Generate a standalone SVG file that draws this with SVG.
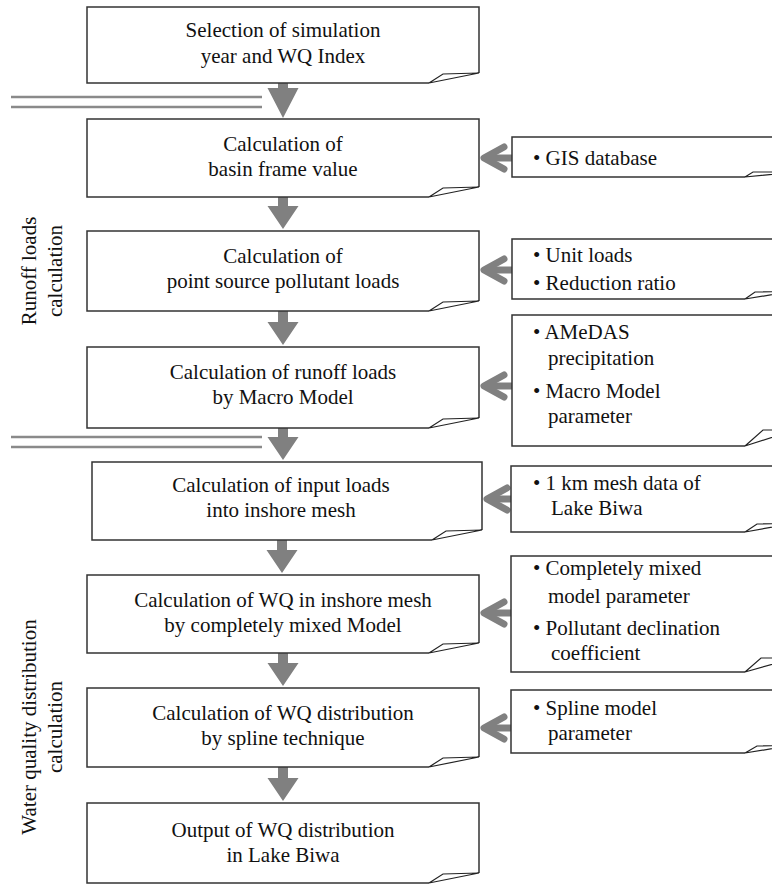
<svg xmlns="http://www.w3.org/2000/svg" width="772" height="884" viewBox="0 0 772 884">
<style>
.box{fill:#fff;stroke:#333;stroke-width:1.5;stroke-linejoin:miter}
.fold{fill:#fff;stroke:#222;stroke-width:1.2;stroke-linejoin:miter}
.t{font-family:"Liberation Serif","Times New Roman",serif;font-size:21px;fill:#111}
.c{text-anchor:middle}
.dn{fill:#808080;stroke:none}
.lf{fill:none;stroke:#808080;stroke-width:7;stroke-linecap:round;stroke-linejoin:round}
.sh{fill:none;stroke:#808080;stroke-width:7}
.dl{stroke:#8a8a8a;stroke-width:2.5;fill:none}
</style>
<rect width="772" height="884" fill="#fff"/>

<g id="separators">
<line class="dl" x1="11" y1="97" x2="262" y2="97"/>
<line class="dl" x1="11" y1="107" x2="262" y2="107"/>
<line class="dl" x1="11" y1="437" x2="262" y2="437"/>
<line class="dl" x1="11" y1="447" x2="262" y2="447"/>
</g>

<g id="section-labels">
<g id="label-runoff">
<text class="t c" transform="translate(36,271) rotate(-90)">Runoff loads</text>
<text class="t c" transform="translate(62,271) rotate(-90)">calculation</text>
</g>
<g id="label-wq">
<text class="t c" transform="translate(36,727) rotate(-90)">Water quality distribution</text>
<text class="t c" transform="translate(62,727) rotate(-90)">calculation</text>
</g>
</g>

<g id="connectors">
<path class="dn" d="M278,83 V88 H267.5 L283,118 L298.5,88 H288 V83 Z"/>
<path class="dn" d="M278,197 V206 H267.5 L283,229 L298.5,206 H288 V197 Z"/>
<path class="dn" d="M278,311 V322 H267.5 L283,345 L298.5,322 H288 V311 Z"/>
<path class="dn" d="M278,428 V437 H267.5 L283,460 L298.5,437 H288 V428 Z"/>
<path class="dn" d="M277,540 V550 H266.5 L282,573 L297.5,550 H287 V540 Z"/>
<path class="dn" d="M278,653 V663 H267.5 L283,686 L298.5,663 H288 V653 Z"/>
<path class="dn" d="M278,767 V778 H267.5 L283,801 L298.5,778 H288 V767 Z"/>

<line class="sh" x1="484" y1="158" x2="512" y2="158"/>
<polyline class="lf" points="504,147 484,158 504,169"/>
<line class="sh" x1="484" y1="270" x2="512" y2="270"/>
<polyline class="lf" points="504,259 484,270 504,281"/>
<line class="sh" x1="484" y1="386" x2="512" y2="386"/>
<polyline class="lf" points="504,375 484,386 504,397"/>
<line class="sh" x1="487" y1="499" x2="511" y2="499"/>
<polyline class="lf" points="507,488 487,499 507,510"/>
<line class="sh" x1="484" y1="613" x2="511" y2="613"/>
<polyline class="lf" points="504,602 484,613 504,624"/>
<line class="sh" x1="484" y1="728" x2="511" y2="728"/>
<polyline class="lf" points="504,717 484,728 504,739"/>
</g>

<g id="box1">
<path class="box" d="M429,83 H87 V7 H479 V73"/>
<path class="fold" d="M429,83 L443,74 L479,73 Z"/>
<text class="t c" x="283" y="37">Selection of simulation</text>
<text class="t c" x="283" y="63">year and WQ Index</text>
</g>

<g id="box2">
<path class="box" d="M429,197 H87 V119 H479 V187"/>
<path class="fold" d="M429,197 L443,188 L479,187 Z"/>
<text class="t c" x="283" y="151">Calculation of</text>
<text class="t c" x="283" y="176">basin frame value</text>
</g>

<g id="box3">
<path class="box" d="M429,311 H87 V231 H479 V301"/>
<path class="fold" d="M429,311 L443,302 L479,301 Z"/>
<text class="t c" x="283" y="263">Calculation of</text>
<text class="t c" x="283" y="288">point source pollutant loads</text>
</g>

<g id="box4">
<path class="box" d="M429,428 H87 V347 H479 V418"/>
<path class="fold" d="M429,428 L443,419 L479,418 Z"/>
<text class="t c" x="283" y="379">Calculation of runoff loads</text>
<text class="t c" x="283" y="404">by Macro Model</text>
</g>

<g id="box5">
<path class="box" d="M432,540 H92 V462 H482 V530"/>
<path class="fold" d="M432,540 L446,531 L482,530 Z"/>
<text class="t c" x="281" y="492">Calculation of input loads</text>
<text class="t c" x="281" y="517">into inshore mesh</text>
</g>

<g id="box6">
<path class="box" d="M429,653 H87 V575 H479 V643"/>
<path class="fold" d="M429,653 L443,644 L479,643 Z"/>
<text class="t c" x="283" y="607">Calculation of WQ in inshore mesh</text>
<text class="t c" x="283" y="632">by completely mixed Model</text>
</g>

<g id="box7">
<path class="box" d="M429,767 H87 V688 H479 V757"/>
<path class="fold" d="M429,767 L443,758 L479,757 Z"/>
<text class="t c" x="283" y="720">Calculation of WQ distribution</text>
<text class="t c" x="283" y="745">by spline technique</text>
</g>

<g id="box8">
<path class="box" d="M429,883 H87 V803 H479 V873"/>
<path class="fold" d="M429,883 L443,874 L479,873 Z"/>
<text class="t c" x="283" y="837">Output of WQ distribution</text>
<text class="t c" x="283" y="862">in Lake Biwa</text>
</g>

<g id="side1">
<path class="box" d="M745,177 H512 V137 H795 V172"/>
<path class="fold" d="M745,177 L753,172 L795,172 Z"/>
<text class="t" x="533" y="165">• GIS database</text>
</g>

<g id="side2">
<path class="box" d="M745,299 H512 V239 H795 V291"/>
<path class="fold" d="M745,299 L755,292 L795,291 Z"/>
<text class="t" x="533" y="262">• Unit loads</text>
<text class="t" x="533" y="290">• Reduction ratio</text>
</g>

<g id="side3">
<path class="box" d="M745,446 H512 V315 H795 V430"/>
<path class="fold" d="M745,446 L763,430 L795,430 Z"/>
<text class="t" x="533" y="339">• AMeDAS</text>
<text class="t" x="548" y="365">precipitation</text>
<text class="t" x="533" y="398">• Macro Model</text>
<text class="t" x="548" y="423">parameter</text>
</g>

<g id="side4">
<path class="box" d="M745,532 H511 V466 H795 V523"/>
<path class="fold" d="M745,532 L757,524 L795,523 Z"/>
<text class="t" x="533" y="490">• 1 km mesh data of</text>
<text class="t" x="551" y="515">Lake Biwa</text>
</g>

<g id="side5">
<path class="box" d="M745,672 H511 V556 H795 V658"/>
<path class="fold" d="M745,672 L761,658 L795,658 Z"/>
<text class="t" x="533" y="575">• Completely mixed</text>
<text class="t" x="548" y="603">model parameter</text>
<text class="t" x="533" y="635">• Pollutant declination</text>
<text class="t" x="551" y="660">coefficient</text>
</g>

<g id="side6">
<path class="box" d="M745,753 H511 V690 H795 V745"/>
<path class="fold" d="M745,753 L757,746 L795,745 Z"/>
<text class="t" x="533" y="715">• Spline model</text>
<text class="t" x="548" y="740">parameter</text>
</g>
</svg>
